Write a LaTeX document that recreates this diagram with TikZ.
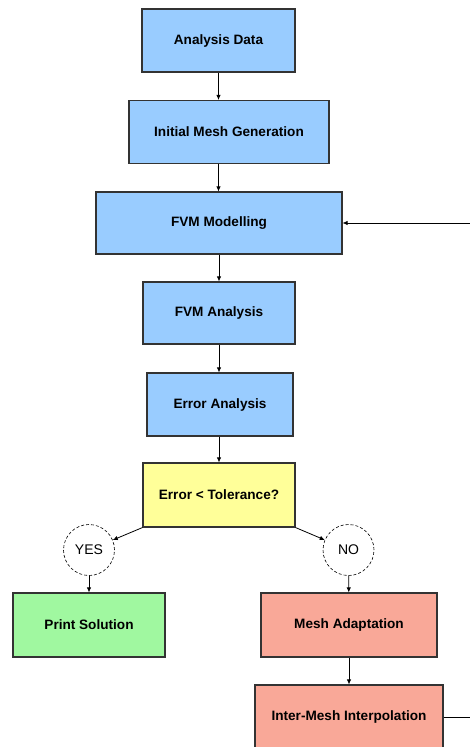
\documentclass[tikz,border=0pt]{standalone}
\usepackage{fontspec}
\setmainfont{Liberation Sans}
\usetikzlibrary{arrows.meta}
\definecolor{boxblue}{HTML}{99CCFF}
\definecolor{boxyellow}{HTML}{FFFF99}
\definecolor{boxgreen}{HTML}{A0F8A0}
\definecolor{boxred}{HTML}{F9A898}
\begin{document}
\begin{tikzpicture}[x=1pt,y=-1pt,>={Latex[length=5pt,width=4.5pt]},line width=0.8pt,
		block/.style={draw=black!80,line width=1.1pt,inner sep=0pt,minimum height=63pt,
			font=\fontsize{13.6}{15}\selectfont\bfseries},
		answer/.style={circle,draw,dashed,dash pattern=on 3pt off 2pt,line width=0.6pt,
			minimum size=51pt,inner sep=0pt,fill=white,font=\fontsize{14}{16}\selectfont}]
			\path[use as bounding box,fill=white] (0,0) rectangle (470,747);
			\clip (0,0) rectangle (470,747);
			% main chain
			\node[block,fill=boxblue,minimum width=153pt] (data) at (218.5,40.5) {Analysis Data};
			\node[block,fill=boxblue,minimum width=200pt] (mesh) at (229,132) {Initial Mesh Generation};
			\node[block,fill=boxblue,minimum width=246pt,minimum height=62pt] (model) at (219,223) {FVM Modelling};
			\node[block,fill=boxblue,minimum width=152pt,minimum height=62pt] (fvm) at (219,313) {FVM Analysis};
			\node[block,fill=boxblue,minimum width=146pt] (err) at (220,404.5) {Error Analysis};
			\node[block,fill=boxyellow,minimum width=152pt,minimum height=64pt] (tol) at (219,495) {Error < Tolerance?};
			% branches
			\node[answer] (yes) at (89,550) {YES};
			\node[answer] (no) at (348.5,550) {NO};
			\node[block,fill=boxgreen,minimum width=152pt,minimum height=64pt] (print) at (89,625) {Print Solution};
			\node[block,fill=boxred,minimum width=176pt,minimum height=64pt] (adapt) at (349,625) {Mesh Adaptation};
			\node[block,fill=boxred,minimum width=188pt,minimum height=64pt] (interp) at (349,717) {Inter-Mesh Interpolation};
			% connectors
			\draw[->] (data) -- (mesh.north -| data);
			\draw[->] (mesh.south -| data) -- (model.north -| data);
			\draw[->] (model) -- (fvm);
			\draw[->] (fvm) -- (err.north -| fvm);
			\draw[->] (err.south -| fvm) -- (tol.north -| fvm);
			\draw[->] (tol.south west) -- (yes);
			\draw[->] (tol.south east) -- (no);
			\draw[->] (yes) -- (print);
			\draw[->] (no) -- (adapt);
			\draw[->] (adapt) -- (interp);
			\draw[->] (interp.east) -- ++(50,0) |- (model.east);
		\end{tikzpicture}
\end{document}
